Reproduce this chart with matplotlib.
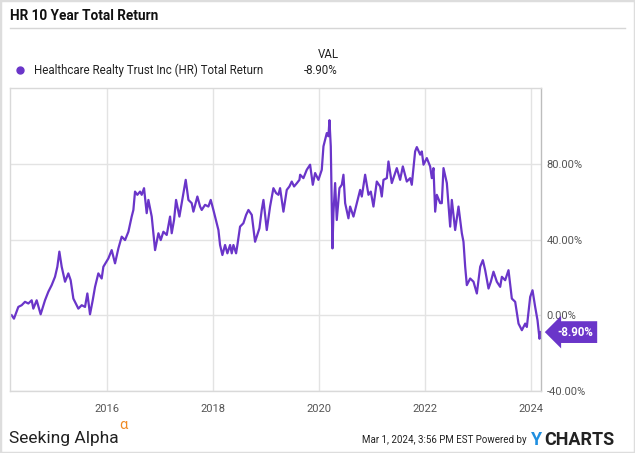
import matplotlib
matplotlib.use("Agg")
import matplotlib.pyplot as plt
from matplotlib.patches import Rectangle
from matplotlib.lines import Line2D
import matplotlib.transforms as mtransforms

# ---- data (decimal years, total return %) ----
years = [
    2014.201, 2014.245, 2014.327, 2014.390, 2014.453, 2014.516, 2014.579, 2014.610,
    2014.673, 2014.748, 2014.830, 2014.893, 2014.956, 2015.019, 2015.063, 2015.101,
    2015.145, 2015.208, 2015.270, 2015.314, 2015.365, 2015.459, 2015.522, 2015.585,
    2015.629, 2015.679, 2015.730, 2015.774, 2015.836, 2015.899, 2015.931, 2016.025,
    2016.088, 2016.151, 2016.214, 2016.277, 2016.340, 2016.403, 2016.465, 2016.497,
    2016.528, 2016.572, 2016.623, 2016.654, 2016.698, 2016.748, 2016.780, 2016.843,
    2016.906, 2016.969, 2017.013, 2017.063, 2017.126, 2017.189, 2017.220, 2017.264,
    2017.302, 2017.365, 2017.409, 2017.440, 2017.484, 2017.535, 2017.597, 2017.629,
    2017.704, 2017.755, 2017.786, 2017.849, 2017.912, 2017.956, 2018.006, 2018.069,
    2018.101, 2018.132, 2018.176, 2018.226, 2018.270, 2018.321, 2018.352, 2018.384,
    2018.434, 2018.459, 2018.509, 2018.572, 2018.623, 2018.667, 2018.730, 2018.792,
    2018.874, 2018.918, 2018.950, 2019.013, 2019.075, 2019.138, 2019.189, 2019.233,
    2019.264, 2019.327, 2019.390, 2019.440, 2019.484, 2019.528, 2019.579, 2019.629,
    2019.642, 2019.704, 2019.767, 2019.830, 2019.881, 2019.925, 2019.987, 2020.050,
    2020.082, 2020.145, 2020.176, 2020.195, 2020.220, 2020.239, 2020.252, 2020.270,
    2020.302, 2020.333, 2020.384, 2020.428, 2020.459, 2020.491, 2020.553, 2020.585,
    2020.648, 2020.711, 2020.774, 2020.805, 2020.868, 2020.931, 2020.975, 2021.025,
    2021.088, 2021.151, 2021.182, 2021.214, 2021.277, 2021.308, 2021.371, 2021.434,
    2021.465, 2021.528, 2021.579, 2021.654, 2021.717, 2021.748, 2021.811, 2021.843,
    2021.906, 2021.937, 2021.969, 2022.031, 2022.094, 2022.126, 2022.157, 2022.189,
    2022.220, 2022.283, 2022.314, 2022.346, 2022.409, 2022.472, 2022.503, 2022.566,
    2022.629, 2022.692, 2022.723, 2022.755, 2022.786, 2022.849, 2022.912, 2022.975,
    2023.038, 2023.088, 2023.132, 2023.195, 2023.239, 2023.289, 2023.352, 2023.415,
    2023.447, 2023.509, 2023.572, 2023.635, 2023.698, 2023.761, 2023.824, 2023.887,
    2023.918, 2023.981, 2024.025, 2024.075, 2024.119, 2024.157, 2024.182,
]
total_return = [
    0.0, -1.8, 4.4, 5.3, 7.1, 6.2, 7.9, 3.5,
    7.9, 0.5, 7.9, 12.4, 15.9, 20.3, 25.6, 33.6,
    25.6, 17.7, 22.1, 18.5, 8.8, 3.5, 5.3, 4.4,
    11.5, 0.5, 7.9, 15.0, 22.1, 19.4, 25.6, 30.0,
    34.4, 27.4, 35.3, 41.5, 39.7, 44.1, 52.1, 55.6,
    65.3, 63.6, 65.3, 63.6, 67.1, 53.9, 60.9, 52.1,
    34.4, 43.3, 39.7, 44.1, 42.4, 52.1, 43.3, 50.3,
    60.9, 52.1, 59.2, 64.5, 71.5, 60.9, 59.2, 54.7,
    62.7, 57.4, 55.6, 58.3, 57.4, 60.9, 55.6, 48.6,
    45.0, 37.1, 31.8, 37.1, 32.7, 37.1, 32.7, 37.1,
    32.7, 37.1, 46.8, 48.6, 53.0, 55.6, 53.0, 38.8,
    45.9, 55.6, 60.9, 45.0, 57.4, 67.1, 64.5, 63.6,
    67.1, 54.7, 66.2, 68.0, 70.6, 68.0, 69.7, 71.5,
    74.2, 72.4, 76.8, 79.5, 68.9, 75.1, 71.5, 76.8,
    89.2, 96.2, 94.5, 103.0, 89.2, 55.6, 35.3, 53.9,
    69.8, 50.3, 67.1, 68.9, 74.2, 59.2, 51.2, 57.4,
    52.1, 59.2, 66.2, 62.7, 74.2, 63.6, 65.3, 57.4,
    70.6, 68.0, 62.7, 71.5, 72.4, 81.2, 69.8, 75.1,
    77.7, 71.5, 78.6, 70.6, 72.4, 68.9, 86.5, 88.8,
    84.8, 86.5, 79.5, 83.0, 78.6, 72.4, 77.7, 54.7,
    63.6, 59.2, 59.2, 77.7, 69.8, 46.8, 60.9, 45.0,
    57.4, 43.3, 38.8, 25.6, 15.9, 19.4, 17.7, 11.5,
    25.6, 29.1, 23.8, 14.1, 17.7, 23.0, 17.7, 15.0,
    20.3, 18.5, 23.8, 8.8, 7.1, -4.4, -7.9, -4.4,
    -6.2, 9.7, 13.2, 4.4, -2.6, -12.4, -8.9,
]
x_ticks = [2016, 2018, 2020, 2022, 2024]
x_tick_labels = ["2016", "2018", "2020", "2022", "2024"]
y_ticks = [-40, 0, 40, 80]
y_tick_labels = ["-40.00%", "0.00%", "40.00%", "80.00%"]
series_name = "Healthcare Realty Trust Inc (HR) Total Return"
last_value_label = "-8.90%"
last_value = -8.9

PURPLE = "#6a35c9"
GRID = "#e3e3e3"
TXT = "#555555"

plt.rcParams["font.family"] = ["Roboto", "DejaVu Sans"]

fig = plt.figure(figsize=(6.35, 4.53), dpi=100)
W, H = 635, 453

def fx(px):
    return px / W

def fy(py):
    return 1 - py / H

# outer card border
fig.patches.append(Rectangle((0, 0), 1, 1, transform=fig.transFigure,
                             fill=False, edgecolor="#dddddd", linewidth=2.5))

# title
fig.text(fx(10), fy(16.5), "HR 10 Year Total Return", fontsize=9.8, fontweight="bold",
         color="#111111", va="center", ha="left")
fig.add_artist(Line2D([fx(10), fx(625)], [fy(27.5), fy(27.5)],
                      transform=fig.transFigure, color="#d6d6d6", linewidth=1))

# legend
fig.add_artist(Line2D([fx(20)], [fy(70)], transform=fig.transFigure, marker="o",
                      markersize=5, color=PURPLE, linestyle="none"))
fig.text(fx(34), fy(70), series_name, fontsize=8.3, color="#222222",
         va="center", ha="left")
fig.text(fx(328), fy(55), "VAL", fontsize=8.3, color="#222222", va="center", ha="center")
fig.text(fx(338), fy(70), last_value_label, fontsize=8.3, color="#222222",
         va="center", ha="right")

# axes
ax = fig.add_axes([fx(10), fy(391), fx(541) - fx(10), fy(88) - fy(391)])
ax.plot(years, total_return, color=PURPLE, linewidth=1.6, solid_joinstyle="round")
ax.set_xlim(2014.17, 2024.185)
ax.set_ylim(-40, 120)

ax.set_xticks(x_ticks)
ax.set_xticklabels(x_tick_labels)
ax.set_yticks(y_ticks)
ax.set_yticklabels(y_tick_labels)
ax.yaxis.tick_right()
ax.tick_params(axis="both", length=0, labelsize=8, labelcolor=TXT)
ax.tick_params(axis="x", pad=9)
ax.tick_params(axis="y", pad=4)
ax.grid(True, color=GRID, linewidth=1)
ax.set_axisbelow(True)
for side in ["left", "top", "bottom"]:
    ax.spines[side].set_color("#d9d9d9")
    ax.spines[side].set_linewidth(1)
ax.spines["right"].set_color("#bdbdbd")
ax.spines["right"].set_linewidth(1)

# last value tag
trans = mtransforms.blended_transform_factory(ax.transAxes, ax.transData)
ax.text(1.03, last_value, last_value_label, transform=trans, fontsize=8.3,
        fontweight="bold", color="white", va="center", ha="left", clip_on=False,
        bbox=dict(boxstyle="larrow,pad=0.38", facecolor=PURPLE, edgecolor="none"))

# footer
fig.text(fx(9), fy(438), "Seeking Alpha", fontsize=12.5, color="#222222",
         va="center", ha="left")
fig.text(fx(119), fy(425), "\u03b1", fontsize=10.5, color="#f08a24",
         va="center", ha="left")
fig.text(fx(527), fy(440), "Mar 1, 2024, 3:56 PM EST Powered by", fontsize=7,
         color="#222222", va="center", ha="right")
fig.text(fx(531), fy(440), "Y", fontsize=13, fontweight="bold", color="#1f8fe0",
         va="center", ha="left")
fig.text(fx(544), fy(440), "CHARTS", fontsize=13, fontweight="bold", color="#222222",
         va="center", ha="left")

fig.savefig("out.png", dpi=100)
